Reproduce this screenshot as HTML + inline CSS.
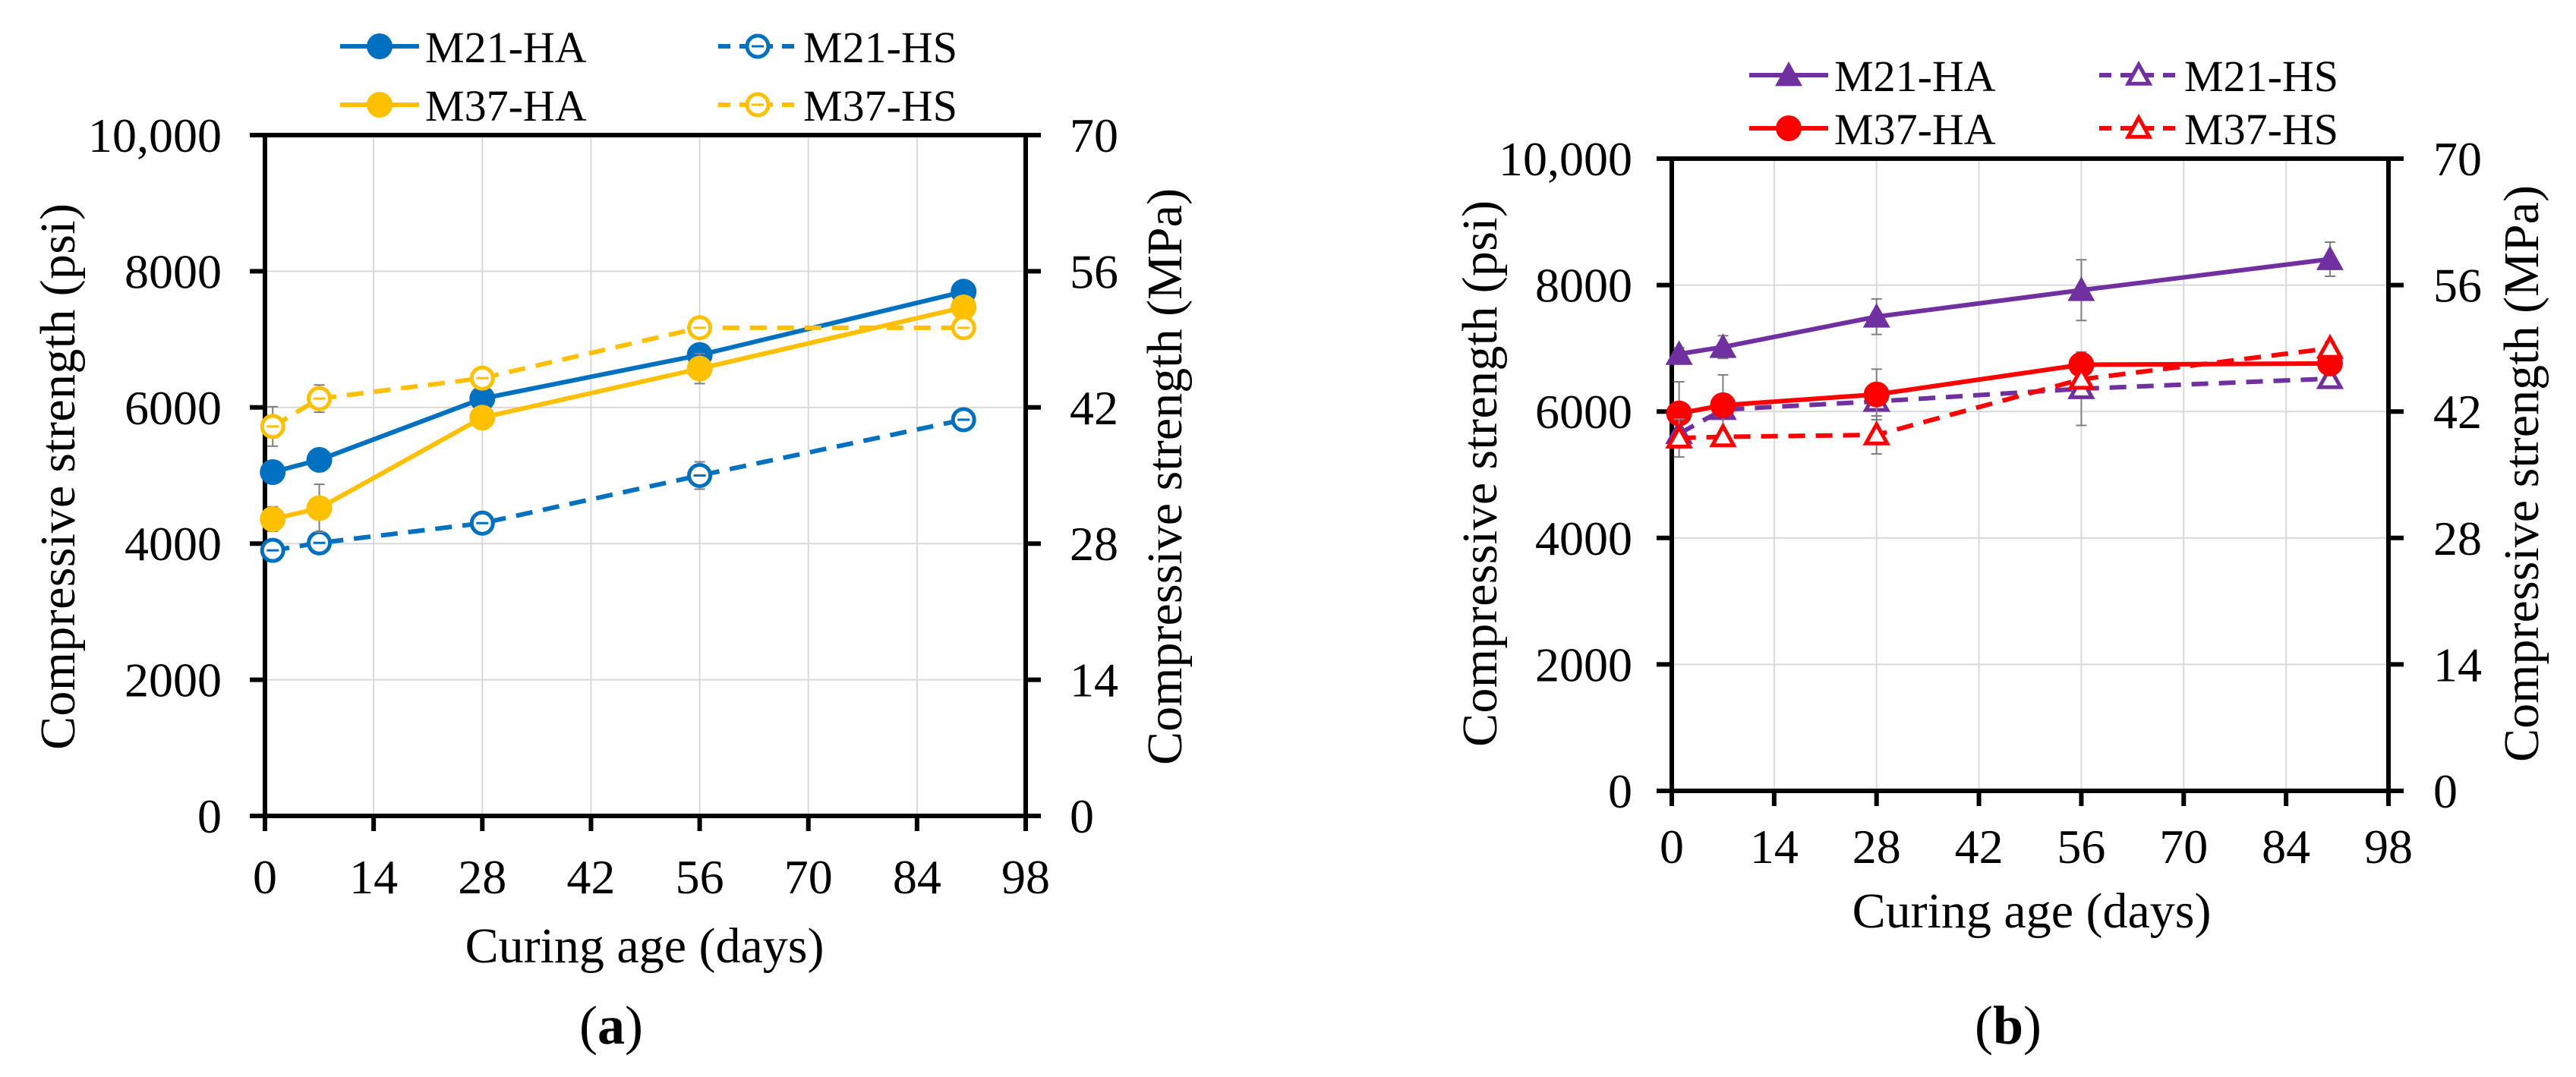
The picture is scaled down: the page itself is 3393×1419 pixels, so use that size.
<!DOCTYPE html>
<html><head><meta charset="utf-8"><style>
html,body{margin:0;padding:0;background:#fff}
svg{display:block}
text{font-family:"Liberation Serif","Times New Roman",serif;fill:#000}
</style></head><body>
<svg id="fig" width="3393" height="1419" viewBox="0 0 3393 1419" xmlns="http://www.w3.org/2000/svg"></svg>
<script>
const days = [1, 7, 28, 56, 90];
const xTicks = [0, 14, 28, 42, 56, 70, 84, 98];
const yTicksPsi = [0, 2000, 4000, 6000, 8000, 10000];
const yTickLabelsPsi = ["0", "2000", "4000", "6000", "8000", "10,000"];
const yTickLabelsMPa = ["0", "14", "28", "42", "56", "70"];
// panel a
const aM21HA = [5050, 5230, 6130, 6770, 7700];
const aM21HS = [3900, 4010, 4300, 5000, 5820];
const aM37HA = [4360, 4520, 5850, 6570, 7470];
const aM37HS = [5720, 6130, 6430, 7170, 7170];
const aM21HAerr = [0, 0, 0, 120, 0];
const aM21HSerr = [0, 0, 0, 200, 0];
const aM37HAerr = [180, 350, 0, 220, 0];
const aM37HSerr = [290, 200, 120, 100, 100];
// panel b
const bM21HA = [6910, 7020, 7500, 7920, 8410];
const bM21HS = [5650, 6030, 6160, 6360, 6520];
const bM37HA = [5970, 6100, 6270, 6740, 6760];
const bM37HS = [5580, 5600, 5630, 6510, 7000];
const bM21HAerr = [100, 180, 280, 480, 270];
const bM21HSerr = [0, 0, 0, 580, 0];
const bM37HAerr = [500, 480, 400, 200, 0];
const bM37HSerr = [300, 0, 300, 0, 100];

const NS = "http://www.w3.org/2000/svg";
const svg = document.getElementById('fig');
function el(tag, attrs, parent) {
  const e = document.createElementNS(NS, tag);
  for (const k in attrs) e.setAttribute(k, attrs[k]);
  (parent || svg).appendChild(e);
  return e;
}
function txt(s, attrs, parent) { const t = el('text', attrs, parent); t.textContent = s; return t; }

function panel(cfg) {
  const g = el('g', {});
  
  
  const L = cfg.L, R = cfg.R, T = cfg.T, B = cfg.B;
  const xs = d => L + (d / 98) * (R - L);
  const ys = v => B - (v / 10000) * (B - T);
  xTicks.forEach((t, i) => { if (i > 0 && i < xTicks.length - 1) {
    const l = el('line', {x1: xs(t), x2: xs(t), y1: T, y2: B, stroke: '#d9d9d9', 'stroke-width': 2}, g);
    
    
  }});
  yTicksPsi.forEach((t, i) => { if (i > 0 && i < yTicksPsi.length - 1) {
    const l = el('line', {x1: L, x2: R, y1: ys(t), y2: ys(t), stroke: '#d9d9d9', 'stroke-width': 2}, g);
    
    
  }});
  const fr = el('path', {d: `M${L},${T}H${R}V${B}H${L}Z`, fill: 'none', stroke: '#000', 'stroke-width': 6}, g);
  
  
  xTicks.forEach(t => {
    el('line', {x1: xs(t), x2: xs(t), y1: B, y2: B + 20, stroke: '#000', 'stroke-width': 6}, g);
    const lb = txt(String(t), {x: xs(t), y: cfg.xLabY, 'font-size': 64, 'text-anchor': 'middle'}, g);
    
    
  });
  yTicksPsi.forEach((t, i) => {
    el('line', {x1: L - 20, x2: L, y1: ys(t), y2: ys(t), stroke: '#000', 'stroke-width': 6}, g);
    el('line', {x1: R, x2: R + 20, y1: ys(t), y2: ys(t), stroke: '#000', 'stroke-width': 6}, g);
    const a = txt(yTickLabelsPsi[i], {x: cfg.yLabR, y: ys(t) + 22, 'font-size': 64, 'text-anchor': 'end'}, g);
    
    
    const b = txt(yTickLabelsMPa[i], {x: cfg.yRLabL, y: ys(t) + 22, 'font-size': 64}, g);
    
    
  });
  const xt = txt('Curing age (days)', {x: cfg.xTitleX, y: cfg.xTitleY, 'font-size': 66, 'text-anchor': 'middle'}, g);
  
  
  const yl = txt('Compressive strength (psi)', {x: 0, y: 0, 'font-size': 66, 'text-anchor': 'middle', textLength: 720, lengthAdjust: 'spacing', transform: `translate(${cfg.yTitleLX},${cfg.yTitleY}) rotate(-90)`}, g);
  
  
  const yr = txt('Compressive strength (MPa)', {x: 0, y: 0, 'font-size': 66, 'text-anchor': 'middle', textLength: 760, lengthAdjust: 'spacing', transform: `translate(${cfg.yTitleRX},${cfg.yTitleY}) rotate(-90)`}, g);
  
  
  const pl = el('text', {x: cfg.plX, y: 1375, 'font-size': 72, 'text-anchor': 'middle'}, g);
  pl.innerHTML = '(<tspan font-weight="bold">' + cfg.letter + '</tspan>)';
  
  

  function marker(shape, filled, color, x, y, parent) {
    let m;
    if (shape === 'circle') {
      m = el('circle', {cx: x, cy: y, r: filled ? 17 : 14, fill: filled ? color : '#fff', stroke: color, 'stroke-width': filled ? 0 : 5}, parent);
    } else {
      const s = filled ? 18 : 14;
      m = el('path', {d: `M${x},${y - s}L${x + s},${y + s * 0.8}L${x - s},${y + s * 0.8}Z`, fill: filled ? color : '#fff', stroke: color, 'stroke-width': filled ? 0 : 5}, parent);
    }
    if (shape === 'circle' && !filled) el('line', {x1: x - 8, x2: x + 8, y1: y, y2: y, stroke: color, 'stroke-width': 3}, parent);
    return m;
  }
  cfg.series.forEach(s => {
    const sg = el('g', {}, g);
    
    
    s.err.forEach((e, i) => { if (e > 0) {
      const x = xs(days[i]);
      const eb = el('path', {d: `M${x},${ys(s.vals[i] - e)}V${ys(s.vals[i] + e)}M${x - 7},${ys(s.vals[i] - e)}H${x + 7}M${x - 7},${ys(s.vals[i] + e)}H${x + 7}`, stroke: '#7f7f7f', 'stroke-width': 2, fill: 'none'}, sg);
      
      
    }});
    const d = s.vals.map((v, i) => (i ? 'L' : 'M') + xs(days[i]) + ',' + ys(v)).join('');
    const ln = el('path', {d: d, fill: 'none', stroke: s.color, 'stroke-width': 6, 'stroke-dasharray': s.dash ? '22,14' : 'none'}, sg);
    
    
    s.vals.forEach((v, i) => {
      const m = marker(s.shape, s.filled, s.color, xs(days[i]), ys(v), sg);
      
      
    });
  });
  const lg = el('g', {}, g);
  
  
  cfg.series.forEach((s, i) => {
    const col = s.dash ? 1 : 0, row = s.row;
    const x0 = cfg.legX[col], y0 = cfg.legY[row];
    const eg = el('g', {}, lg);
    
    
    el('line', {x1: x0, x2: x0 + 104, y1: y0, y2: y0, stroke: s.color, 'stroke-width': 6, 'stroke-dasharray': s.dash ? '16,12' : 'none'}, eg);
    marker(s.shape, s.filled, s.color, x0 + 52, y0, eg);
    txt(s.label, {x: x0 + 112, y: y0 + 21, 'font-size': 58}, eg);
  });
}

panel({name: 'chart-a', letter: 'a', L: 349, R: 1351, T: 178, B: 1075,
  xLabY: 1177, yLabR: 292, yRLabL: 1409, xTitleX: 849, xTitleY: 1268,
  yTitleLX: 98, yTitleRX: 1556, yTitleY: 628, plX: 805,
  legX: [448, 946], legY: [61, 138],
  series: [
    {label: 'M21-HA', vals: aM21HA, err: aM21HAerr, color: '#0070C0', dash: false, filled: true, shape: 'circle', row: 0},
    {label: 'M21-HS', vals: aM21HS, err: aM21HSerr, color: '#0070C0', dash: true, filled: false, shape: 'circle', row: 0},
    {label: 'M37-HA', vals: aM37HA, err: aM37HAerr, color: '#FFC000', dash: false, filled: true, shape: 'circle', row: 1},
    {label: 'M37-HS', vals: aM37HS, err: aM37HSerr, color: '#FFC000', dash: true, filled: false, shape: 'circle', row: 1}
  ]});
panel({name: 'chart-b', letter: 'b', L: 2202, R: 3146, T: 209, B: 1042,
  xLabY: 1137, yLabR: 2150, yRLabL: 3205, xTitleX: 2676, xTitleY: 1222,
  yTitleLX: 1971, yTitleRX: 3343, yTitleY: 624, plX: 2645,
  legX: [2304, 2765], legY: [99, 169],
  series: [
    {label: 'M21-HA', vals: bM21HA, err: bM21HAerr, color: '#7030A0', dash: false, filled: true, shape: 'tri', row: 0},
    {label: 'M21-HS', vals: bM21HS, err: bM21HSerr, color: '#7030A0', dash: true, filled: false, shape: 'tri', row: 0},
    {label: 'M37-HA', vals: bM37HA, err: bM37HAerr, color: '#FF0000', dash: false, filled: true, shape: 'circle', row: 1},
    {label: 'M37-HS', vals: bM37HS, err: bM37HSerr, color: '#FF0000', dash: true, filled: false, shape: 'tri', row: 1}
  ]});
</script>
</body></html>
